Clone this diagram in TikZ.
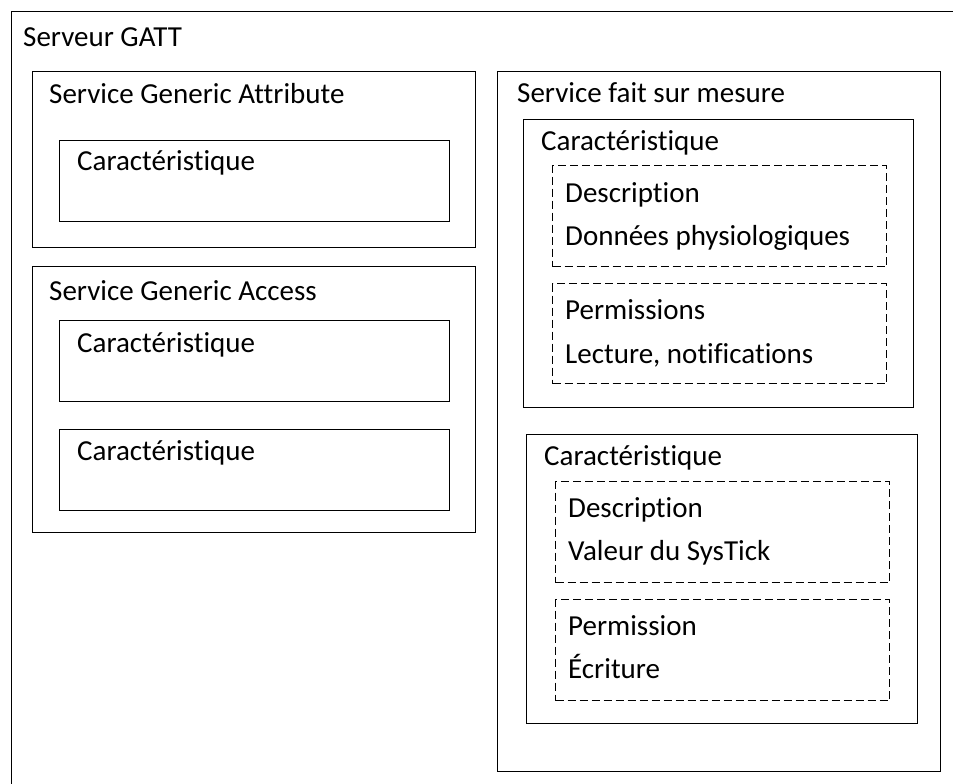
\documentclass[tikz,border=0pt]{standalone}
\usepackage{fontspec}
\setmainfont{Carlito}[Ligatures=NoCommon]
\usepackage{tikz}
\usetikzlibrary{positioning}

\tikzset{
	boite/.style = {draw, rectangle, line width=1.2pt, inner sep=0pt, anchor=north west},
	boitept/.style = {boite, dash pattern=on 8pt off 4pt},
	titre/.style = {anchor=base west, inner sep=0pt, font=\fontsize{29}{35}\selectfont}
}

\begin{document}
\begin{tikzpicture}[x=1pt, y=-1pt]
			 	%%%	Cadre
			 	\useasboundingbox (0,0) rectangle (953,784);
			 	\fill[white] (0,0) rectangle (953,784);
			 	%%%	Serveur
			 	\node[boite, minimum width=960pt, minimum height=790pt] (serveur) at (11,11) {};
			 	\node[titre] (t-serveur) at (23,47) {Serveur GATT};
			 	
			 	%%%	Service Generic Attribute
			 	\node[boite, minimum width=443pt, minimum height=176pt] (attr) at (32,71) {};
			 	\node[titre] (t-attr) at (49,103) {Service Generic Attribute};
			 	\node[boite, minimum width=390pt, minimum height=81pt] (attr-c) at (59,140) {};
			 	\node[titre] (t-attr-c) at (77,170) {Caractéristique};
			 	
			 	%%%	Service Generic Access
			 	\node[boite, minimum width=443pt, minimum height=266pt] (acc) at (32,266) {};
			 	\node[titre] (t-acc) at (49,300) {Service Generic Access};
			 	\node[boite, minimum width=390pt, minimum height=81pt] (acc-c1) at (59,320) {};
			 	\node[titre] (t-acc-c1) at (77,352) {Caractéristique};
			 	\node[boite, minimum width=390pt, minimum height=81pt] (acc-c2) at (59,429) {};
			 	\node[titre] (t-acc-c2) at (77,460) {Caractéristique};
			 	
			 	%%%	Service fait sur mesure
			 	\node[boite, minimum width=443pt, minimum height=700pt] (mesure) at (497,71) {};
			 	\node[titre] (t-mesure) at (517,102) {Service fait sur mesure};
			 	
			 	\node[boite, minimum width=390pt, minimum height=288pt] (phys) at (523,119) {};
			 	\node[titre] (t-phys) at (541,150) {Caractéristique};
			 	\node[boitept, minimum width=334pt, minimum height=101pt] (phys-d) at (552,165) {};
			 	\node[titre] (t-phys-d1) at (565,202) {Description};
			 	\node[titre] (t-phys-d2) at (565,245) {Données physiologiques};
			 	\node[boitept, minimum width=334pt, minimum height=100pt] (phys-p) at (552,283) {};
			 	\node[titre] (t-phys-p1) at (565,319) {Permissions};
			 	\node[titre] (t-phys-p2) at (565,363) {Lecture, notifications};
			 	
			 	\node[boite, minimum width=391pt, minimum height=289pt] (tick) at (526,434) {};
			 	\node[titre] (t-tick) at (544,465) {Caractéristique};
			 	\node[boitept, minimum width=334pt, minimum height=101pt] (tick-d) at (555,481) {};
			 	\node[titre] (t-tick-d1) at (568,517) {Description};
			 	\node[titre] (t-tick-d2) at (568,560) {Valeur du SysTick};
			 	\node[boitept, minimum width=334pt, minimum height=101pt] (tick-p) at (555,599) {};
			 	\node[titre] (t-tick-p1) at (568,635) {Permission};
			 	\node[titre] (t-tick-p2) at (568,678) {Écriture};
\end{tikzpicture}
\end{document}
